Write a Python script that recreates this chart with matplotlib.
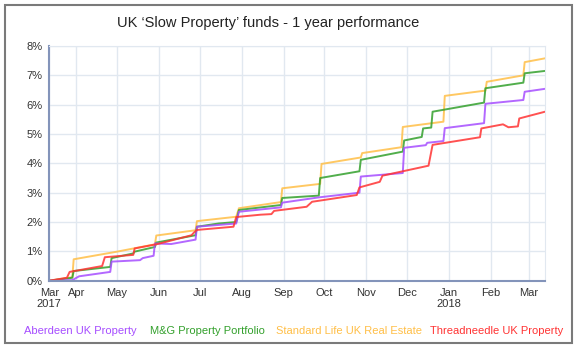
import pandas as pd
import matplotlib.pyplot as plt
import matplotlib.dates as mdates
from matplotlib.patches import Rectangle

plt.rcParams['font.family'] = ['Liberation Sans', 'DejaVu Sans']

# Data (cumulative % return)
aberdeen_dates = ['2017-03-12', '2017-03-29', '2017-04-03', '2017-04-26', '2017-04-27', '2017-05-18',
                  '2017-05-20', '2017-05-28', '2017-05-29', '2017-06-10', '2017-06-28', '2017-06-29',
                  '2017-07-28', '2017-07-30', '2017-08-30', '2017-08-31', '2017-09-27', '2017-10-27',
                  '2017-10-28', '2017-11-28', '2017-11-29', '2017-12-15', '2017-12-16', '2017-12-28',
                  '2017-12-29', '2018-01-27', '2018-01-28', '2018-02-25', '2018-02-26', '2018-03-13']
aberdeen_vals = [0.0, 0.02, 0.15, 0.30, 0.65, 0.70,
                 0.77, 0.85, 1.27, 1.25, 1.40, 1.84,
                 1.95, 2.35, 2.50, 2.66, 2.84, 3.00,
                 3.55, 3.67, 4.53, 4.62, 4.70, 4.76,
                 5.20, 5.37, 6.03, 6.16, 6.44, 6.54]

mg_dates = ['2017-03-12', '2017-03-29', '2017-03-30', '2017-04-26', '2017-04-27', '2017-05-13',
            '2017-05-14', '2017-05-29', '2017-05-30', '2017-06-28', '2017-06-29', '2017-07-15',
            '2017-07-28', '2017-07-30', '2017-08-30', '2017-08-31', '2017-09-27', '2017-09-28',
            '2017-10-27', '2017-10-28', '2017-11-28', '2017-11-29', '2017-12-12', '2017-12-13',
            '2017-12-19', '2017-12-20', '2018-01-27', '2018-01-28', '2018-02-25', '2018-02-26',
            '2018-03-13']
mg_vals = [0.0, 0.10, 0.33, 0.47, 0.77, 0.93,
           0.99, 1.15, 1.30, 1.55, 1.84, 1.95,
           2.00, 2.41, 2.58, 2.82, 2.90, 3.50,
           3.73, 4.12, 4.40, 4.78, 4.90, 5.19,
           5.22, 5.76, 6.07, 6.56, 6.75, 7.07,
           7.15]

stdlife_dates = ['2017-03-12', '2017-03-29', '2017-03-30', '2017-05-01', '2017-05-29', '2017-05-30',
                 '2017-06-28', '2017-06-29', '2017-07-28', '2017-07-30', '2017-08-30', '2017-08-31',
                 '2017-09-28', '2017-09-29', '2017-10-28', '2017-10-29', '2017-11-27', '2017-11-28',
                 '2017-12-28', '2017-12-29', '2018-01-28', '2018-01-29', '2018-02-25', '2018-02-26',
                 '2018-03-13']
stdlife_vals = [0.0, 0.12, 0.73, 0.99, 1.24, 1.54,
                1.72, 2.03, 2.18, 2.47, 2.68, 3.15,
                3.30, 3.98, 4.20, 4.35, 4.55, 5.24,
                5.42, 6.30, 6.48, 6.78, 7.00, 7.45,
                7.58]

tneedle_dates = ['2017-03-12', '2017-03-25', '2017-03-27', '2017-04-20', '2017-04-22', '2017-05-13',
                 '2017-05-14', '2017-05-31', '2017-06-25', '2017-06-27', '2017-06-29', '2017-07-26',
                 '2017-07-28', '2017-08-15', '2017-08-23', '2017-08-25', '2017-09-18', '2017-09-22',
                 '2017-10-25', '2017-10-27', '2017-11-11', '2017-11-13', '2017-12-17', '2017-12-20',
                 '2018-01-24', '2018-01-25', '2018-02-10', '2018-02-14', '2018-02-21', '2018-02-22',
                 '2018-03-13']
tneedle_vals = [0.0, 0.10, 0.30, 0.50, 0.80, 0.88,
                1.10, 1.25, 1.55, 1.65, 1.73, 1.84,
                2.17, 2.25, 2.27, 2.38, 2.52, 2.69,
                2.92, 3.18, 3.37, 3.58, 3.92, 4.63,
                4.89, 5.19, 5.33, 5.23, 5.26, 5.53,
                5.76]

fund_names = ['Aberdeen UK Property', 'M&G Property Portfolio',
              'Standard Life UK Real Estate', 'Threadneedle UK Property']
fund_colors = ['#a64dff', '#33a02c', '#ffbf47', '#ff3333']

month_ticks = ['2017-03-12', '2017-04-01', '2017-05-01', '2017-06-01', '2017-07-01', '2017-08-01',
               '2017-09-01', '2017-10-01', '2017-11-01', '2017-12-01', '2018-01-01', '2018-02-01',
               '2018-03-01']
month_labels = ['Mar\n2017', 'Apr', 'May', 'Jun', 'Jul', 'Aug', 'Sep', 'Oct', 'Nov', 'Dec',
                'Jan\n2018', 'Feb', 'Mar']

fig = plt.figure(figsize=(5.8, 3.52), dpi=100)
ax = fig.add_axes([49.3 / 580, 1 - 280.7 / 352, (545 - 49.3) / 580, (280.7 - 46) / 352])

series = [(aberdeen_dates, aberdeen_vals), (mg_dates, mg_vals),
          (stdlife_dates, stdlife_vals), (tneedle_dates, tneedle_vals)]
# draw order: orange and green first, purple and red on top
for i in [2, 1, 0, 3]:
    d, v = series[i]
    ax.plot(pd.to_datetime(d), v, color=fund_colors[i], lw=1.4, alpha=0.85)

ax.set_xlim(pd.Timestamp('2017-03-12'), pd.Timestamp('2018-03-13'))
ax.set_ylim(0, 8)
ax.set_yticks(range(0, 9))
ax.set_yticklabels([f'{i}%' for i in range(0, 9)])
ax.set_xticks(pd.to_datetime(month_ticks))
ax.set_xticklabels(month_labels)

ax.grid(True, color='#e1e8f0', lw=1)
ax.set_axisbelow(True)
ax.tick_params(length=0, labelsize=8, colors='#333333', pad=5)
for s in ['top', 'right']:
    ax.spines[s].set_color('#e1e8f0')
for s in ['left', 'bottom']:
    ax.spines[s].set_color('#8394ba')
    ax.spines[s].set_linewidth(1.5)

fig.text(268 / 580, 1 - 23 / 352, 'UK \u2018Slow Property\u2019 funds - 1 year performance',
         ha='center', va='center', fontsize=10.5, color='#222222')

legend_x = [24, 150, 276, 430]
for name, col, lx in zip(fund_names, fund_colors, legend_x):
    fig.text(lx / 580, 1 - 331 / 352, name, color=col, fontsize=8, ha='left', va='center')

fig.add_artist(Rectangle((5 / 580, 1 - 343 / 352), 567 / 580, 338 / 352,
                         transform=fig.transFigure, fill=False, ec='#7a7a7a', lw=1.5))

plt.savefig('out.png', dpi=100)
